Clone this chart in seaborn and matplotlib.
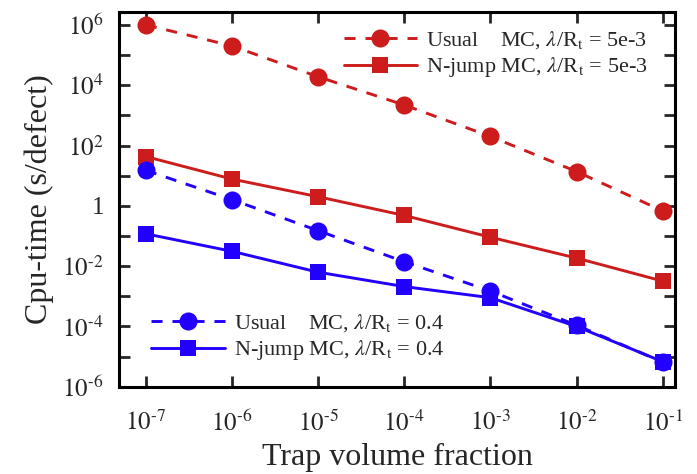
import numpy as np
import pandas as pd
import seaborn as sns
import matplotlib
matplotlib.use("Agg")
import matplotlib.pyplot as plt
from matplotlib.ticker import FixedLocator, FuncFormatter, NullLocator, NullFormatter

# ---- data ----
fraction = [1e-7, 1e-6, 1e-5, 1e-4, 1e-3, 1e-2, 1e-1]
usual_5e3 = [1.0e6, 2.0e5, 1.9e4, 2.2e3, 2.0e2, 13.7, 0.68]
njump_5e3 = [43, 7.7, 2.0, 0.48, 0.091, 0.0185, 0.0032]
usual_04 = [15, 1.6, 0.15, 0.014, 0.0015, 1.1e-4, 6.6e-6]
njump_04 = [0.118, 0.031, 0.0063, 0.0021, 9.0e-4, 1.0e-4, 6.8e-6]
labels = [r"Usual    MC, $\lambda$/R$_\mathrm{t}$ = 5e-3",
          r"N-jump MC, $\lambda$/R$_\mathrm{t}$ = 5e-3",
          r"Usual    MC, $\lambda$/R$_\mathrm{t}$ = 0.4",
          r"N-jump MC, $\lambda$/R$_\mathrm{t}$ = 0.4"]

sns.set_style("ticks")
plt.rcParams['font.family'] = ['Liberation Serif', 'DejaVu Serif']
plt.rcParams['mathtext.fontset'] = 'stix'

RED = '#cc1c1c'
BLUE = '#2200ff'

fig = plt.figure(figsize=(6.97, 4.74), dpi=100)
ax = fig.add_axes([0.171, 0.184, 0.797, 0.791])

series = [
    (usual_5e3, RED, 'o', '--', labels[0]),
    (njump_5e3, RED, 's', '-', labels[1]),
    (usual_04, BLUE, 'o', '--', labels[2]),
    (njump_04, BLUE, 's', '-', labels[3]),
]
handles = []
for vals, col, mk, ls, lab in series:
    df = pd.DataFrame({'x': fraction, 'y': vals})
    sns.lineplot(data=df, x='x', y='y', ax=ax, color=col, marker=mk,
                 markersize=13 if mk == 'o' else 11.5, markeredgewidth=0,
                 linewidth=2.1, linestyle=ls, label=lab, legend=False)
    line = ax.get_lines()[-1]
    if ls == '--':
        line.set_dashes((3.8, 3.4))
    handles.append(line)

ax.set_xscale('log')
ax.set_yscale('log')
ax.set_xlim(4.9e-8, 0.138)
ax.set_ylim(1e-6, 2.7e6)

def pow_label(e):
    if e == 0:
        return "1"
    if e < 0:
        return r"$10^{\text{-}%d}$" % (-e)
    return r"$10^{%d}$" % e

ax.xaxis.set_major_locator(FixedLocator([10.0**k for k in range(-7, 0)]))
ax.xaxis.set_minor_locator(NullLocator())
ax.xaxis.set_major_formatter(FuncFormatter(lambda v, p: pow_label(round(np.log10(v)))))
ax.xaxis.set_minor_formatter(NullFormatter())

ax.yaxis.set_major_locator(FixedLocator([10.0**k for k in range(-6, 7, 2)]))
ax.yaxis.set_minor_locator(FixedLocator([10.0**k for k in range(-5, 7, 2)]))
ax.yaxis.set_major_formatter(FuncFormatter(lambda v, p: pow_label(round(np.log10(v)))))
ax.yaxis.set_minor_formatter(NullFormatter())

ax.tick_params(which='both', direction='in', top=True, right=True, width=2, labelsize=18)
ax.tick_params(which='major', length=8)
ax.tick_params(which='minor', length=8)
ax.tick_params(axis='x', pad=17)
ax.tick_params(axis='y', pad=11)
for s in ax.spines.values():
    s.set_linewidth(2.2)
    s.set_color('black')

ax.set_xlabel("Trap volume fraction", fontsize=23, labelpad=5)
ax.set_ylabel("Cpu-time (s/defect)", fontsize=23, labelpad=6)

leg1 = ax.legend(handles=handles[:2], loc='upper right', fontsize=16, frameon=False,
                 handlelength=3.3, borderaxespad=0.2, labelspacing=0.2,
                 handletextpad=0.4, bbox_to_anchor=(0.975, 0.99))
ax.add_artist(leg1)
ax.legend(handles=handles[2:], loc='lower left', fontsize=16, frameon=False,
          handlelength=3.3, labelspacing=0.2, handletextpad=0.4,
          bbox_to_anchor=(0.022, 0.012))

fig.savefig('out.png', dpi=100)
